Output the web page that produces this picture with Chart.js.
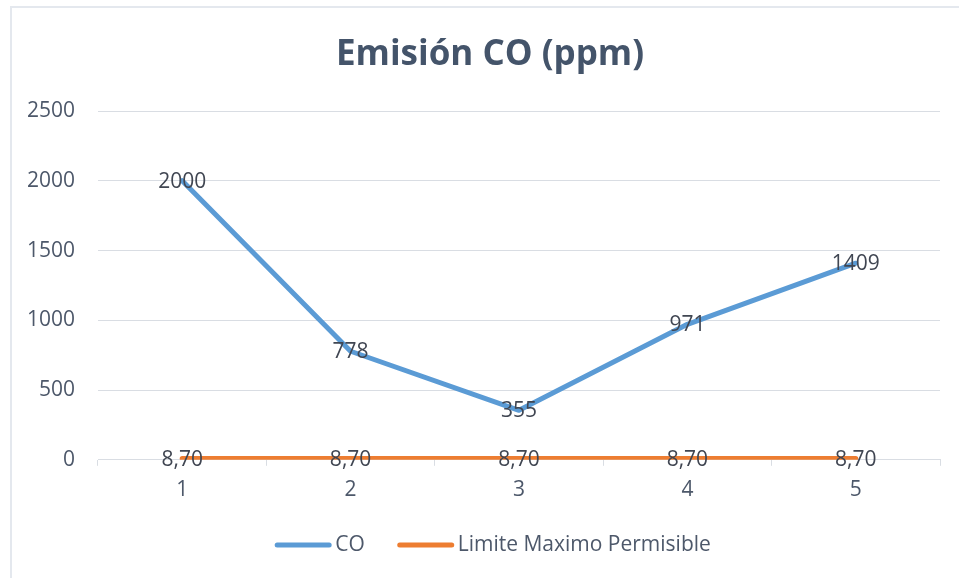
<!DOCTYPE html>
<html>
<head>
<meta charset="utf-8">
<script src="https://cdn.jsdelivr.net/npm/chart.js@4/dist/chart.umd.min.js"></script>
<style>
  html, body { margin: 0; padding: 0; background: #ffffff; }
  body { width: 959px; height: 578px; position: relative; overflow: hidden; }
  #frame { position: absolute; left: 10px; top: 6px; width: 1100px; height: 800px;
           border-left: 2px solid #E4E8EE; border-top: 2px solid #E4E8EE; box-sizing: border-box; }
  #chart { position: absolute; left: 0; top: 0; }
</style>
</head>
<body>
<div id="frame"></div>
<canvas id="chart" width="959" height="578"></canvas>
<script>
// Sampling points and measured values
const categories = ['1', '2', '3', '4', '5'];
const coValues = [2000, 778, 355, 971, 1409];
const limitValues = [8.7, 8.7, 8.7, 8.7, 8.7];
const yTicks = [0, 500, 1000, 1500, 2000, 2500];
const chartTitle = 'Emisión CO (ppm)';

const FONT = "'Open Sans', 'Noto Sans', sans-serif";
const BLUE = '#5B9BD5';
const ORANGE = '#ED7D31';
const TEXT = '#4D586A';

// Writes each point's value centred on the point
const valueLabels = {
  id: 'valueLabels',
  afterDatasetsDraw(chart) {
    const ctx = chart.ctx;
    ctx.save();
    ctx.font = '21px ' + FONT;
    ctx.fillStyle = '#404652';
    ctx.textAlign = 'center';
    ctx.textBaseline = 'middle';
    chart.data.datasets.forEach((ds, di) => {
      const meta = chart.getDatasetMeta(di);
      meta.data.forEach((pt, i) => {
        const v = ds.data[i];
        const text = ds.labelFormat ? ds.labelFormat(v) : String(v);
        ctx.fillText(text, pt.x, pt.y + 1);
      });
    });
    ctx.restore();
  }
};

// Heading centred over the whole framed area
const heading = {
  id: 'heading',
  afterDraw(chart) {
    const ctx = chart.ctx;
    ctx.save();
    ctx.font = 'bold 35px ' + FONT;
    ctx.fillStyle = '#44546A';
    ctx.textAlign = 'center';
    ctx.textBaseline = 'middle';
    ctx.fillText(chartTitle, 490, 55);
    ctx.restore();
  }
};

// Legend row under the axis: a short thick line per series, then its name
const lineLegend = {
  id: 'lineLegend',
  afterDraw(chart) {
    const ctx = chart.ctx;
    const sample = 56, gap = 4, spacing = 33, y = 545, centerX = 493;
    ctx.save();
    ctx.font = '21px ' + FONT;
    ctx.textBaseline = 'middle';
    ctx.textAlign = 'left';
    const items = chart.data.datasets.map(ds => ({
      text: ds.label, color: ds.borderColor,
      w: sample + gap + ctx.measureText(ds.label).width
    }));
    const total = items.reduce((s, it) => s + it.w, 0) + spacing * (items.length - 1);
    let x = centerX - total / 2;
    items.forEach(it => {
      ctx.strokeStyle = it.color;
      ctx.lineWidth = 5;
      ctx.lineCap = 'round';
      ctx.beginPath();
      ctx.moveTo(x + 2, y);
      ctx.lineTo(x + sample - 2, y);
      ctx.stroke();
      ctx.fillStyle = TEXT;
      ctx.fillText(it.text, x + sample + gap, y);
      x += it.w + spacing;
    });
    ctx.restore();
  }
};

new Chart(document.getElementById('chart'), {
  type: 'line',
  data: {
    labels: categories,
    datasets: [
      {
        label: 'CO',
        data: coValues,
        borderColor: BLUE,
        backgroundColor: BLUE,
        borderWidth: 5,
        borderCapStyle: 'round',
        borderJoinStyle: 'round',
        pointRadius: 0,
        tension: 0,
        labelFormat: v => String(v)
      },
      {
        label: 'Limite Maximo Permisible',
        data: limitValues,
        borderColor: ORANGE,
        backgroundColor: ORANGE,
        borderWidth: 5,
        borderCapStyle: 'round',
        pointRadius: 0,
        tension: 0,
        labelFormat: v => v.toFixed(2).replace('.', ',')
      }
    ]
  },
  options: {
    responsive: false,
    animation: false,
    devicePixelRatio: 1,
    layout: { padding: { left: 0, right: 19, top: 111, bottom: 63 } },
    plugins: {
      title: { display: false },
      legend: { display: false },
      tooltip: { enabled: false }
    },
    scales: {
      x: {
        offset: true,
        grid: {
          display: true,
          offset: true,
          drawOnChartArea: false,
          drawTicks: true,
          tickLength: 6,
          color: '#D9DDE3'
        },
        border: { display: true, color: '#D9DDE3', width: 1 },
        ticks: {
          color: TEXT,
          font: { family: FONT, size: 21 },
          padding: 12
        }
      },
      y: {
        min: 0,
        max: 2500,
        afterFit(scale) { scale.width = 98; },
        afterBuildTicks(scale) { scale.ticks = yTicks.map(v => ({ value: v })); },
        grid: { color: '#D9DDE3', lineWidth: 1, drawTicks: false },
        border: { display: false },
        ticks: {
          color: TEXT,
          font: { family: FONT, size: 21 },
          padding: 23,
          callback: v => String(v)
        }
      }
    }
  },
  plugins: [valueLabels, heading, lineLegend]
});
</script>
</body>
</html>
